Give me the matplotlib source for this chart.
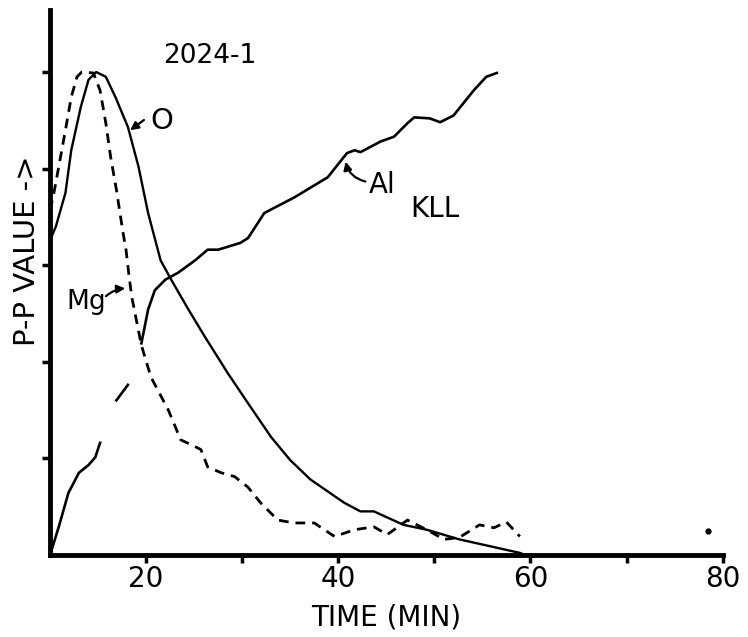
import numpy as np
import matplotlib
matplotlib.use("Agg")
import matplotlib.pyplot as plt

# O signal (solid)
o_time = [10.0, 10.6, 11.6, 12.2, 13.2, 14.0, 14.8, 15.8, 16.8, 18.1, 19.2, 20.2,
          21.5, 22.6, 24.4, 26.1, 28.5, 30.6, 33.0, 35.0, 37.1, 40.6, 42.3, 43.7,
          46.8, 49.2, 52.6, 56.2, 58.9, 59.4]
o_val = [3.26, 3.40, 3.75, 4.19, 4.64, 4.92, 5.00, 4.95, 4.74, 4.43, 4.02, 3.54,
         3.05, 2.85, 2.54, 2.26, 1.88, 1.57, 1.22, 0.98, 0.78, 0.54, 0.45, 0.45,
         0.31, 0.26, 0.16, 0.08, 0.02, 0.0]

# Mg signal (dashed)
mg_time = [10.0, 10.4, 10.9, 11.6, 12.2, 12.8, 13.3, 14.5, 15.2, 15.8, 16.3, 16.9,
           17.6, 17.9, 18.2, 18.5, 19.5, 20.5, 22.3, 23.6, 24.7, 25.7, 26.4, 27.8,
           29.2, 30.6, 31.9, 33.7, 35.4, 37.5, 39.6, 41.7, 43.7, 45.1, 47.2, 49.2,
           51.0, 52.6, 54.7, 56.2, 57.5, 58.9]
mg_val = [3.57, 3.75, 4.02, 4.40, 4.74, 4.95, 5.00, 4.99, 4.81, 4.47, 4.12, 3.78,
          3.33, 3.16, 2.90, 2.67, 2.17, 1.84, 1.50, 1.19, 1.14, 1.09, 0.91, 0.85,
          0.81, 0.70, 0.54, 0.36, 0.33, 0.33, 0.19, 0.26, 0.29, 0.21, 0.36, 0.26,
          0.16, 0.18, 0.31, 0.28, 0.34, 0.19]

# Al KLL signal (solid, broken near the start)
al_time = [10.0, 10.9, 11.9, 13.0, 14.0, 14.7, 15.2, 15.5,
           16.9, 18.1, 18.8,
           19.5, 20.2, 20.9, 22.0, 23.3, 25.1, 26.4, 27.5, 29.8, 30.6, 32.3, 35.4,
           38.9, 40.9, 41.7, 42.3, 44.4, 45.8, 47.2, 47.9, 49.5, 50.6, 52.0, 54.1,
           55.4, 56.5]
al_val = [0.0, 0.29, 0.64, 0.85, 0.93, 1.01, 1.16, np.nan,
          1.60, 1.76, np.nan,
          2.19, 2.54, 2.74, 2.85, 2.92, 3.05, 3.16, 3.16, 3.23, 3.28, 3.54, 3.70,
          3.91, 4.16, 4.19, 4.17, 4.28, 4.33, 4.47, 4.53, 4.52, 4.48, 4.55, 4.81,
          4.95, 4.99]

stray_time = [78.5]
stray_val = [0.25]

x_ticks = [20, 30, 40, 50, 60, 70, 80]
x_labels = ["20", "", "40", "", "60", "", "80"]
y_ticks = [1, 2, 3, 4, 5]

fig = plt.figure(figsize=(7.48, 6.37), dpi=100)
ax = fig.add_axes([0.067, 0.129, 0.899, 0.855])

ax.plot(o_time, o_val, color="black", lw=1.7)
ax.plot(mg_time, mg_val, color="black", lw=2.0, linestyle=(0, (3.5, 2.5)))
ax.plot(al_time, al_val, color="black", lw=1.9)
ax.plot(stray_time, stray_val, "o", color="black", ms=3.5)

ax.set_xlim(10, 80)
ax.set_ylim(0, 5.64)
ax.set_xticks(x_ticks)
ax.set_xticklabels(x_labels, fontsize=20)
ax.set_yticks(y_ticks)
ax.set_yticklabels([])
ax.tick_params(axis="both", direction="out", length=6, width=2.5, pad=1.5)
for side in ["top", "right"]:
    ax.spines[side].set_visible(False)
for side in ["left", "bottom"]:
    ax.spines[side].set_linewidth(3.5)

# axis titles placed by hand to sit where the reference has them
fig.text(0.5165, 0.031, "TIME (MIN)", fontsize=20, ha="center", va="center")
fig.text(0.036, 0.606, "P-P VALUE ->", rotation=90, fontsize=21,
         ha="center", va="center")

ax.text(26.6, 5.17, "2024-1", fontsize=19, ha="center", va="center")

ax.text(21.6, 4.49, "O", fontsize=21, ha="center", va="center")
ax.annotate("", xy=(18.1, 4.38), xytext=(20.0, 4.52),
            arrowprops=dict(arrowstyle="-|>", color="black", lw=1.6,
                            mutation_scale=12))

ax.text(13.8, 2.62, "Mg", fontsize=19, ha="center", va="center")
ax.annotate("", xy=(18.1, 2.76), xytext=(15.6, 2.66),
            arrowprops=dict(arrowstyle="-|>", color="black", lw=1.6,
                            mutation_scale=12,
                            connectionstyle="arc3,rad=-0.2"))

ax.text(44.6, 3.83, "Al", fontsize=20, ha="center", va="center")
ax.text(50.1, 3.58, "KLL", fontsize=20, ha="center", va="center")
ax.annotate("", xy=(40.7, 4.10), xytext=(43.1, 3.86),
            arrowprops=dict(arrowstyle="-|>", color="black", lw=1.6,
                            mutation_scale=12,
                            connectionstyle="arc3,rad=-0.35"))

fig.savefig("out.png", dpi=100)
